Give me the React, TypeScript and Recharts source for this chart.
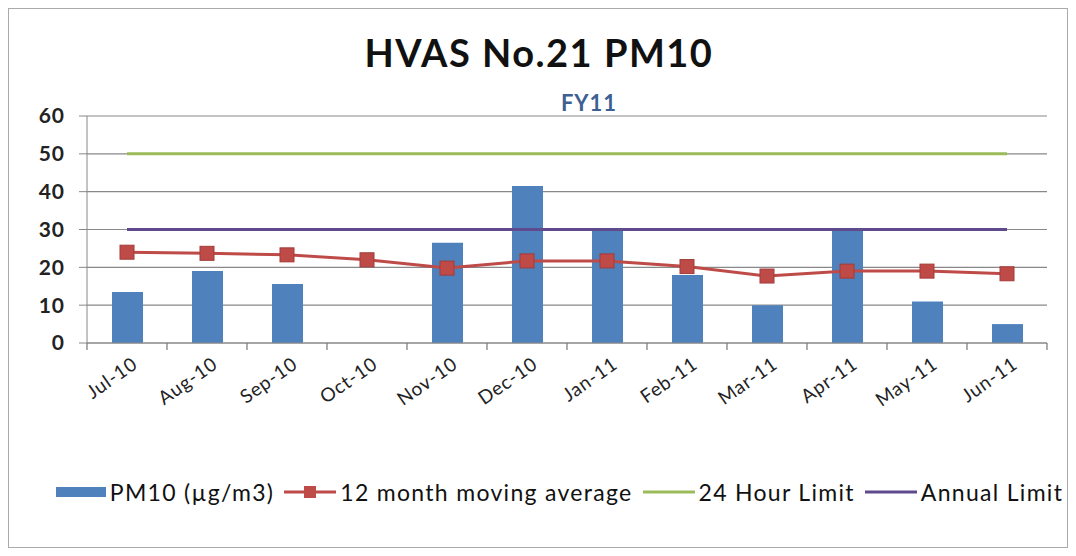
import React from "react";
import { ComposedChart, Bar, Line, XAxis, YAxis, CartesianGrid } from "recharts";

const months = ["Jul-10","Aug-10","Sep-10","Oct-10","Nov-10","Dec-10","Jan-11","Feb-11","Mar-11","Apr-11","May-11","Jun-11"];
const pm10 = [13.5, 19, 15.6, 0, 26.5, 41.5, 30, 18, 10, 30, 11, 5];
const movingAvg = [24, 23.7, 23.3, 22, 19.8, 21.7, 21.7, 20.2, 17.7, 19, 19, 18.3];
const limit24h = [50, 50, 50, 50, 50, 50, 50, 50, 50, 50, 50, 50];
const limitAnnual = [30, 30, 30, 30, 30, 30, 30, 30, 30, 30, 30, 30];
const yTicks = [0, 10, 20, 30, 40, 50, 60];

const data = months.map((m, i) => ({
  month: m,
  pm10: pm10[i],
  avg: movingAvg[i],
  h24: limit24h[i],
  annual: limitAnnual[i],
}));

const FONT = "Lato, 'Open Sans', sans-serif";
const C_BAR = "#4F81BD";
const C_AVG = "#BE4B48";
const C_24 = "#9BBB59";
const C_ANN = "#5E4A8C";

const XTick = (props: any) => {
  const { x, y, payload } = props;
  const half = 40;
  return (
    <g>
      <line x1={x - half} y1={y - 8} x2={x - half} y2={y - 1} stroke="#777" strokeWidth={1.2} />
      {payload.index === months.length - 1 ? (
        <line x1={x + half} y1={y - 8} x2={x + half} y2={y - 1} stroke="#777" strokeWidth={1.2} />
      ) : null}
      <g transform={`translate(${x + 12},${y + 16})`}>
        <text textAnchor="end" transform="rotate(-35)" fill="#222" fontSize={19} letterSpacing={0.8} fontFamily={FONT}>
          {payload.value}
        </text>
      </g>
    </g>
  );
};

const SquareDot = (props: any) => {
  const { cx, cy } = props;
  if (cx == null || cy == null) return null;
  return <rect x={cx - 7} y={cy - 7} width={14} height={14} fill={C_AVG} stroke="#A33B38" strokeWidth={1} />;
};

const LegendBox = () => {
  const item = (icon: React.ReactNode, label: string, gap: number) => (
    <span style={{ display: "inline-flex", alignItems: "center", marginRight: gap }}>
      {icon}
      <span style={{ marginLeft: 4 }}>{label}</span>
    </span>
  );
  return (
    <div style={{ position: "absolute", left: 0, top: 469, width: 1058, boxSizing: "border-box", whiteSpace: "nowrap", fontFamily: FONT, fontSize: 23, letterSpacing: 1.3, color: "#111", display: "flex", alignItems: "center", justifyContent: "center", paddingLeft: 43 }}>
      {item(<svg width={50} height={12}><rect x={0} y={1} width={50} height={10} fill={C_BAR} /></svg>, "PM10 (µg/m3)", 10)}
      {item(<svg width={52} height={16}><line x1={0} y1={8} x2={52} y2={8} stroke={C_AVG} strokeWidth={3} /><rect x={20} y={2} width={12} height={12} fill={C_AVG} /></svg>, "12 month moving average", 10)}
      {item(<svg width={52} height={6}><line x1={0} y1={3} x2={52} y2={3} stroke={C_24} strokeWidth={3} /></svg>, "24 Hour Limit", 10)}
      {item(<svg width={52} height={6}><line x1={0} y1={3} x2={52} y2={3} stroke={C_ANN} strokeWidth={3} /></svg>, "Annual Limit", 0)}
    </div>
  );
};

export default function App() {
  return (
    <div style={{ position: "relative", width: 1060, height: 540, border: "1px solid #aaa", boxSizing: "border-box", background: "#fff" }}>
      <div style={{ position: "absolute", left: 0, width: 1060, top: 20, textAlign: "center", fontFamily: FONT, fontWeight: 700, fontSize: 38, letterSpacing: 1.5, color: "#111" }}>
        HVAS No.21 PM10
      </div>
      <div style={{ position: "absolute", left: 0, width: 1060, top: 80, textAlign: "center", fontFamily: FONT, fontWeight: 700, fontSize: 22, letterSpacing: 1, color: "#3E5F92", paddingLeft: 50 }}>
        FY11
      </div>
      <div style={{ position: "absolute", left: 0, top: 0 }}>
        <ComposedChart width={1058} height={538} data={data} margin={{ top: 107, right: 20, bottom: 0, left: 0 }}>
          <CartesianGrid vertical={false} stroke="#888" strokeWidth={1.2} />
          <XAxis dataKey="month" height={204} tick={<XTick />} tickLine={false} axisLine={{ stroke: "#888" }} interval={0} />
          <YAxis width={78} domain={[0, 60]} ticks={yTicks} tick={{ fill: "#222", fontSize: 21, fontWeight: 700, fontFamily: FONT, letterSpacing: 1 }} tickLine={{ stroke: "#888" }} axisLine={{ stroke: "#888" }} tickSize={8} tickMargin={14} />
          <Bar dataKey="pm10" fill={C_BAR} barSize={31} isAnimationActive={false} />
          <Line dataKey="h24" stroke={C_24} strokeWidth={3} dot={false} isAnimationActive={false} />
          <Line dataKey="annual" stroke={C_ANN} strokeWidth={3} dot={false} isAnimationActive={false} />
          <Line dataKey="avg" stroke={C_AVG} strokeWidth={3} dot={<SquareDot />} isAnimationActive={false} />
        </ComposedChart>
      </div>
      <LegendBox />
    </div>
  );
}
